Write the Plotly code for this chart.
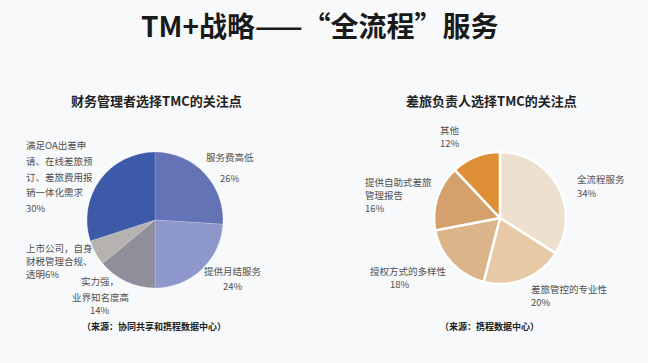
import plotly.graph_objects as go

W, H = 648, 363

title_text = "TM+战略——“全流程”服务"

left_title = "财务管理者选择TMC的关注点"
left_source = "（来源：协同共享和携程数据中心）"
left_categories = ["服务费高低", "提供月结服务", "实力强，业界知名度高", "上市公司，自身财税管理合规、透明", "满足OA出差申请、在线差旅预订、差旅费用报销一体化需求"]
left_values = [26, 24, 14, 6, 30]
left_colors = ["#6472b6", "#8e97cc", "#8f8f9c", "#b5b2b0", "#3d5aa8"]

right_title = "差旅负责人选择TMC的关注点"
right_source = "（来源：携程数据中心）"
right_categories = ["全流程服务", "差旅管控的专业性", "授权方式的多样性", "提供自助式差旅管理报告", "其他"]
right_values = [34, 20, 18, 16, 12]
right_colors = ["#ede0ce", "#e8c9a5", "#dcb48a", "#d4a06b", "#de8f35"]

# label lines for each slice (text lines as shown in the chart)
left_label_lines = [
    ["服务费高低", f"{left_values[0]}%"],
    ["提供月结服务", f"{left_values[1]}%"],
    ["实力强，", "业界知名度高", f"{left_values[2]}%"],
    ["上市公司，自身", "财税管理合规、", f"透明{left_values[3]}%"],
    ["满足OA出差申", "请、在线差旅预", "订、差旅费用报", "销一体化需求", f"{left_values[4]}%"],
]
right_label_lines = [
    ["全流程服务", f"{right_values[0]}%"],
    ["差旅管控的专业性", f"{right_values[1]}%"],
    ["授权方式的多样性", f"{right_values[2]}%"],
    ["提供自助式差旅", "管理报告", f"{right_values[3]}%"],
    ["其他", f"{right_values[4]}%"],
]

FONT = "Noto Sans CJK SC"


def px(x):
    return x / W


def py(y):
    return 1 - y / H


def domain(cx, cy, r):
    return dict(x=[px(cx - r), px(cx + r)], y=[py(cy + r), py(cy - r)])


fig = go.Figure()
fig.add_trace(go.Pie(
    labels=left_categories, values=left_values, sort=False, direction="clockwise", rotation=0,
    marker=dict(colors=left_colors, line=dict(color="rgba(255,255,255,0.35)", width=0.5)),
    textinfo="none", hoverinfo="label+percent", showlegend=False,
    domain=domain(155, 220, 68),
))
fig.add_trace(go.Pie(
    labels=right_categories, values=right_values, sort=False, direction="clockwise", rotation=0,
    marker=dict(colors=right_colors, line=dict(color="#ffffff", width=2.5)),
    textinfo="none", hoverinfo="label+percent", showlegend=False,
    domain=domain(500, 218, 66),
))

ann = []


def text(x, y, s, size=10, bold=False, anchor="left", color="#505050"):
    ann.append(dict(x=px(x), y=py(y), xref="paper", yref="paper", text=(f"<b>{s}</b>" if bold else s),
                    showarrow=False, xanchor=anchor, yanchor="middle", borderpad=0,
                    font=dict(family=FONT, size=size, color=color)))


text(320, 25, title_text, size=28, bold=True, anchor="center", color="#1a1a1a")
text(156, 100, left_title, size=13, bold=True, anchor="center", color="#222222")
text(491, 100, right_title, size=13, bold=True, anchor="center", color="#222222")
text(154, 326, left_source, size=9, bold=True, anchor="center", color="#222222")
text(489, 326, right_source, size=9, bold=True, anchor="center", color="#222222")

LS = 13.0  # tight line spacing


def stack(center, n):
    return [center + (i - (n - 1) / 2) * LS for i in range(n)]


# placement: ([x per line], anchor, [y per line])
left_pos = [
    ([230, 230], "center", [157, 178]),
    ([233, 233], "center", [271, 286]),
    ([100, 100, 100], "center", [281, 297, 310]),
    ([25, 25, 25], "left", stack(261, 3)),
    ([25] * 5, "left", [145, 161, 177, 192, 208]),
]
right_pos = [
    ([576, 576], "left", stack(186, 2)),
    ([530, 530], "left", stack(295, 2)),
    ([369, 389], "left", stack(277, 2)),
    ([364, 364, 364], "left", [182, 195, 208]),
    ([439, 439], "left", stack(136, 2)),
]

for lines, (xs, anc, ys) in list(zip(left_label_lines, left_pos)) + list(zip(right_label_lines, right_pos)):
    for s, x, y in zip(lines, xs, ys):
        text(x, y, s, size=9.5, anchor=anc)

fig.update_layout(
    width=W, height=H, margin=dict(l=0, r=0, t=0, b=0),
    paper_bgcolor="#f8f9fb", plot_bgcolor="#f8f9fb",
    annotations=ann, font=dict(family=FONT),
)

fig.write_html("out.html", config={"displayModeBar": False},
               post_script="document.body.style.margin='0px';document.body.style.background='#f8f9fb';")
